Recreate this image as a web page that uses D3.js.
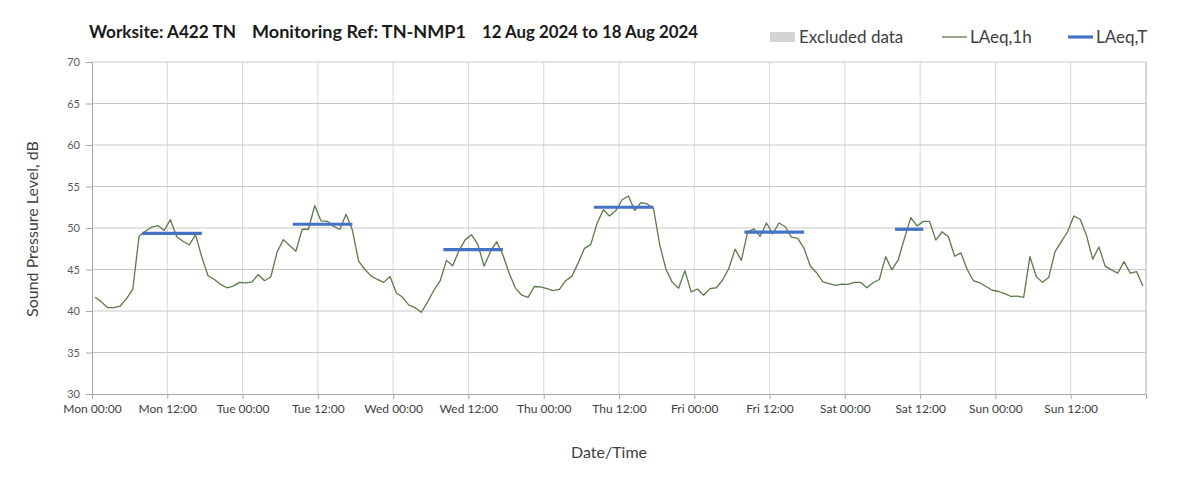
<!DOCTYPE html>
<meta charset="utf-8">
<title>Noise Monitoring TN-NMP1</title>
<script src="https://d3js.org/d3.v7.min.js"></script>
<style>
  body { margin: 0; background: #fff; }
  text { font-family: Lato, "Open Sans", sans-serif; }
</style>
<body>
<script>

// Hourly LAeq,1h values, Mon 00:00 .. Sun 23:00 (168 hours)
const laeq1h = [
  // Mon
  41.65, 41.1, 40.4, 40.4, 40.6, 41.5, 42.6, 49.0, 49.6, 50.1, 50.3, 49.7,
  51.0, 48.95, 48.4, 47.95, 49.2, 46.5, 44.25, 43.8, 43.2, 42.8, 43.0, 43.45,
  // Tue
  43.4, 43.5, 44.4, 43.65, 44.1, 47.1, 48.6, 47.9, 47.2, 49.85, 49.85, 52.7,
  50.85, 50.8, 50.2, 49.85, 51.65, 49.75, 46.0, 45.0, 44.2, 43.8, 43.45, 44.15,
  // Wed
  42.2, 41.65, 40.7, 40.4, 39.85, 41.1, 42.5, 43.65, 46.1, 45.45, 47.3, 48.6,
  49.2, 48.0, 45.4, 47.15, 48.35, 46.75, 44.55, 42.75, 41.9, 41.65, 42.95, 42.9,
  // Thu
  42.7, 42.45, 42.6, 43.65, 44.2, 45.8, 47.55, 48.0, 50.55, 52.2, 51.45, 52.1,
  53.4, 53.85, 52.1, 53.05, 52.9, 52.35, 47.95, 45.0, 43.45, 42.75, 44.85, 42.3,
  // Fri
  42.65, 41.9, 42.7, 42.8, 43.7, 45.1, 47.45, 46.1, 49.5, 49.9, 49.0, 50.6,
  49.3, 50.6, 50.15, 48.9, 48.75, 47.55, 45.4, 44.6, 43.5, 43.3, 43.1, 43.25,
  // Sat
  43.2, 43.45, 43.45, 42.8, 43.4, 43.8, 46.55, 44.95, 46.15, 48.75, 51.25, 50.25,
  50.8, 50.8, 48.55, 49.55, 48.95, 46.6, 47.0, 45.0, 43.65, 43.4, 42.95, 42.5,
  // Sun
  42.35, 42.1, 41.75, 41.8, 41.65, 46.55, 44.15, 43.45, 44.05, 47.15, 48.35, 49.55,
  51.45, 51.05, 49.15, 46.25, 47.7, 45.4, 44.95, 44.55, 45.95, 44.55, 44.75, 43.0
];

// LAeq,T daytime periods (start hour, end hour within the week)
const periodStart = [8, 32, 56, 80, 104, 128];
const periodEnd = [17.5, 41.5, 65.5, 89.5, 113.5, 132.5];
const laeqT = [49.35, 50.45, 47.4, 52.5, 49.5, 49.85];

const xTickHours = d3.range(0, 169, 12);
const xTickLabels = ["Mon 00:00", "Mon 12:00", "Tue 00:00", "Tue 12:00", "Wed 00:00", "Wed 12:00",
  "Thu 00:00", "Thu 12:00", "Fri 00:00", "Fri 12:00", "Sat 00:00", "Sat 12:00",
  "Sun 00:00", "Sun 12:00", ""];
const yTicks = [30, 35, 40, 45, 50, 55, 60, 65, 70];

const titleParts = ["Worksite: A422 TN", "Monitoring Ref: TN-NMP1", "12 Aug 2024 to 18 Aug 2024"];

const width = 1203, height = 490;
const margin = { top: 62, right: 57, bottom: 96, left: 92 };
const innerW = width - margin.left - margin.right;
const innerH = height - margin.top - margin.bottom;

const svg = d3.select("body").append("svg")
  .attr("width", width)
  .attr("height", height);

const g = svg.append("g")
  .attr("transform", `translate(${margin.left},${margin.top})`);

const x = d3.scaleLinear().domain([0, 168]).range([0, innerW]);
const y = d3.scaleLinear().domain([30, 70]).range([innerH, 0]);

// vertical gridlines
g.selectAll("line.vgrid")
  .data(xTickHours.slice(1, -1))
  .enter().append("line")
  .attr("class", "vgrid")
  .attr("x1", d => x(d)).attr("x2", d => x(d))
  .attr("y1", 0).attr("y2", innerH)
  .attr("stroke", "#d9d9d9").attr("stroke-width", 1);

// horizontal gridlines
g.selectAll("line.hgrid")
  .data(yTicks.slice(1))
  .enter().append("line")
  .attr("class", "hgrid")
  .attr("x1", 0).attr("x2", innerW)
  .attr("y1", d => y(d)).attr("y2", d => y(d))
  .attr("stroke", "#c8c8c8").attr("stroke-width", 1);

// right border
g.append("line")
  .attr("x1", innerW).attr("x2", innerW)
  .attr("y1", 0).attr("y2", innerH)
  .attr("stroke", "#b0b0b0");

// y axis
const yAxis = g.append("g")
  .call(d3.axisLeft(y).tickValues(yTicks).tickSize(6).tickPadding(6));
yAxis.select(".domain").attr("stroke", "#a6a6a6");
yAxis.selectAll(".tick line").attr("stroke", "#a6a6a6");
yAxis.selectAll(".tick text")
  .attr("fill", "#595959")
  .style("font-size", "11px");

// x axis
const xAxis = g.append("g")
  .attr("transform", `translate(0,${innerH})`)
  .call(d3.axisBottom(x).tickValues(xTickHours)
    .tickFormat((d, i) => xTickLabels[i]).tickSize(5).tickPadding(5));
xAxis.select(".domain").attr("stroke", "#a6a6a6");
xAxis.selectAll(".tick line").attr("stroke", "#a6a6a6");
xAxis.selectAll(".tick text")
  .attr("fill", "#404040")
  .style("font-size", "12px");

// LAeq,1h line (plotted at mid-hour)
const line = d3.line()
  .x((d, i) => x(i + 0.5))
  .y(d => y(d));

g.append("path")
  .datum(laeq1h)
  .attr("fill", "none")
  .attr("stroke", "#5b7a48")
  .attr("stroke-width", 1.3)
  .attr("stroke-linejoin", "round")
  .attr("d", line);

// LAeq,T segments
g.selectAll("line.laeqT")
  .data(laeqT)
  .enter().append("line")
  .attr("class", "laeqT")
  .attr("x1", (d, i) => x(periodStart[i]))
  .attr("x2", (d, i) => x(periodEnd[i]))
  .attr("y1", d => y(d)).attr("y2", d => y(d))
  .attr("stroke", "#4472c4")
  .attr("stroke-width", 3.2);

// Title
svg.selectAll("text.title")
  .data(titleParts)
  .enter().append("text")
  .attr("class", "title")
  .attr("x", (d, i) => [89, 252, 482][i])
  .attr("y", 38)
  .style("font-size", "16.5px").style("font-weight", "bold")
  .attr("fill", "#1a1a1a")
  .attr("textLength", (d, i) => [147, 214, 216][i])
  .attr("lengthAdjust", "spacingAndGlyphs")
  .text(d => d);

// Legend
const legend = svg.append("g").style("font-size", "17px").attr("fill", "#404040");
legend.append("rect").attr("x", 770).attr("y", 32).attr("width", 25).attr("height", 10).attr("fill", "#d4d4d4");
legend.append("text").attr("x", 799).attr("y", 43).text("Excluded data");
legend.append("line").attr("x1", 942).attr("x2", 967).attr("y1", 37).attr("y2", 37)
  .attr("stroke", "#5b7a48").attr("stroke-width", 1.3);
legend.append("text").attr("x", 970).attr("y", 43).text("LAeq,1h");
legend.append("line").attr("x1", 1068).attr("x2", 1093).attr("y1", 37).attr("y2", 37)
  .attr("stroke", "#4472c4").attr("stroke-width", 3.2);
legend.append("text").attr("x", 1096).attr("y", 43).text("LAeq,T");

// Axis titles
svg.append("text")
  .attr("transform", `translate(38,${margin.top + innerH / 2 + 1}) rotate(-90)`)
  .attr("text-anchor", "middle")
  .style("font-size", "16px")
  .attr("fill", "#404040")
  .text("Sound Pressure Level, dB");

svg.append("text")
  .attr("x", 609).attr("y", 458)
  .attr("text-anchor", "middle")
  .style("font-size", "16px")
  .attr("fill", "#404040")
  .text("Date/Time");

</script>
</body>
